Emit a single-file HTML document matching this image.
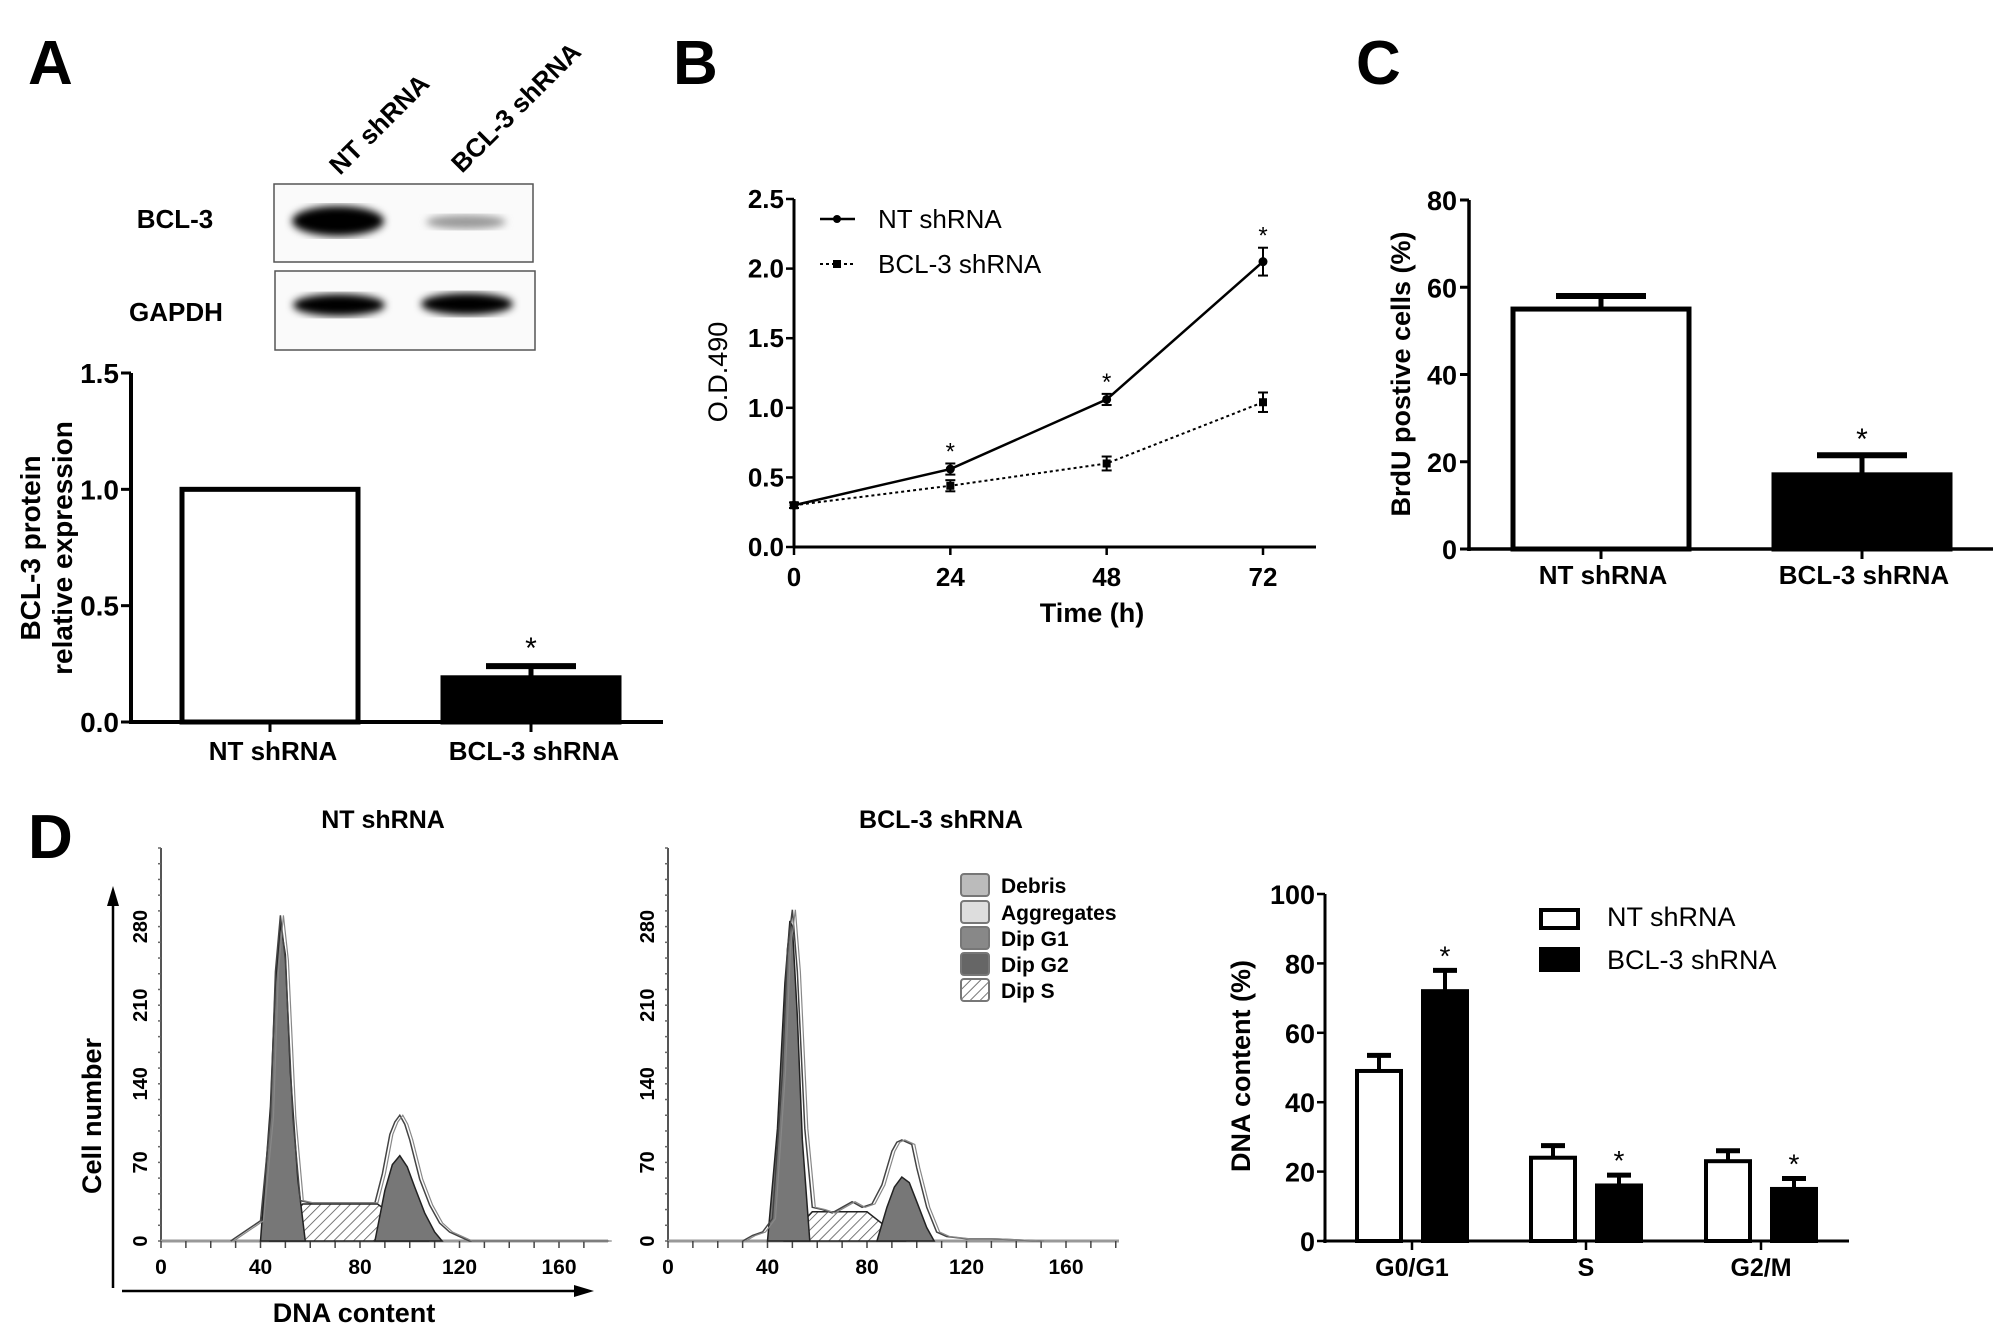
<!DOCTYPE html>
<html><head><meta charset="utf-8">
<style>
html,body{margin:0;padding:0;background:#fff;}
svg{display:block;}
text{font-family:"Liberation Sans",Arial,sans-serif;fill:#000;}
.nar{font-family:"Liberation Sans Narrow","Liberation Sans",sans-serif;font-weight:bold;}
</style></head>
<body>
<svg id="fig" width="2008" height="1340" viewBox="0 0 2008 1340" xmlns="http://www.w3.org/2000/svg">
<defs>
<pattern id="hatch" patternUnits="userSpaceOnUse" width="7" height="7" patternTransform="rotate(45)">
<rect width="7" height="7" fill="#fff"/><line x1="0" y1="0" x2="0" y2="7" stroke="#555" stroke-width="1.6"/>
</pattern>
<filter id="blur"><feGaussianBlur stdDeviation="4"/></filter>
</defs>
<!-- panel letters -->
<text x="28" y="84" font-size="62" font-weight="bold">A</text>
<text x="673" y="84" font-size="62" font-weight="bold">B</text>
<text x="1356" y="84" font-size="62" font-weight="bold">C</text>
<text x="28" y="858" font-size="62" font-weight="bold">D</text>

<!-- western blot -->
<g>
<text class="nar" transform="translate(340,176) rotate(-45)" font-size="26">NT shRNA</text>
<text class="nar" transform="translate(462,174) rotate(-45)" font-size="26">BCL-3 shRNA</text>
<text class="nar" x="175" y="228" font-size="26" text-anchor="middle">BCL-3</text>
<text class="nar" x="176" y="321" font-size="26" text-anchor="middle">GAPDH</text>
<rect x="274" y="184" width="259" height="78" fill="#fafafa" stroke="#555" stroke-width="1.5"/>
<rect x="275" y="271" width="260" height="79" fill="#fafafa" stroke="#555" stroke-width="1.5"/>
<ellipse cx="338" cy="221" rx="46" ry="15" fill="#000" filter="url(#blur)"/>
<ellipse cx="466" cy="222" rx="40" ry="7" fill="#999" filter="url(#blur)"/>
<ellipse cx="339" cy="305" rx="46" ry="11" fill="#000" filter="url(#blur)"/>
<ellipse cx="467" cy="304" rx="46" ry="11" fill="#000" filter="url(#blur)"/>
</g>
<g id="chartA"></g>
<g id="chartB"></g>
<g id="chartC"></g>
<g id="hist1"></g>
<g id="hist2"></g>
<g id="chartD"></g>
</svg>
<script>
// ---- Panel A data
const aCats = ["NT shRNA", "BCL-3 shRNA"];
const aVals = [1.0, 0.19];
const aErr = [0, 0.05];
const aTicks = ["0.0", "0.5", "1.0", "1.5"];
// ---- Panel B data
const bTimes = [0, 24, 48, 72];
const bNT = [0.30, 0.56, 1.06, 2.05];
const bNTerr = [0.02, 0.04, 0.04, 0.1];
const bBCL = [0.30, 0.44, 0.60, 1.04];
const bBCLerr = [0.02, 0.04, 0.05, 0.07];
const bYTicks = ["0.0", "0.5", "1.0", "1.5", "2.0", "2.5"];
// ---- Panel C data
const cCats = ["NT shRNA", "BCL-3 shRNA"];
const cVals = [55, 17];
const cErr = [3, 4.5];
const cTicks = ["0", "20", "40", "60", "80"];
// ---- Panel D histograms
const h1OutX = [28,32,36,40,44,46,48,50,53,56,60,70,80,86,89,92,94,96,98,100,104,108,112,116,120,124,130,180];
const h1OutY = [0,6,12,18,110,240,290,250,110,36,34,34,34,34,60,95,106,112,104,90,55,32,16,8,4,0,0,0];
const h1G1X = [40,44,46,48,50,52,55,58];
const h1G1Y = [0,120,230,283,255,150,55,0];
const h1SX = [44,57,87,107];
const h1SY = [0,33,33,0];
const h1G2X = [86,90,93,96,99,102,106,110,113];
const h1G2Y = [0,45,68,76,66,48,25,8,0];
const h2OutX = [30,34,38,42,46,48,50,52,55,58,62,66,70,74,78,82,86,90,92,94,96,98,100,104,108,112,120,130,150];
const h2OutY = [0,5,8,20,150,260,295,240,100,30,28,25,30,35,30,33,50,80,88,90,88,86,65,30,8,4,2,2,0];
const h2G1X = [40,44,47,49,50,52,54,57];
const h2G1Y = [0,100,230,285,280,200,90,0];
const h2SX = [47,58,80,95];
const h2SY = [0,26,26,0];
const h2G2X = [84,88,91,94,97,100,104,107];
const h2G2Y = [0,30,48,57,52,35,12,0];
const hXTicks = [0, 40, 80, 120, 160];
const hYTicks = [0, 70, 140, 210, 280];
// ---- Panel D bars
const dCats = ["G0/G1", "S", "G2/M"];
const dNT = [49, 24, 23];
const dNTerr = [4.5, 3.5, 3];
const dBCL = [72, 16, 15];
const dBCLerr = [6, 3, 3];
const dTicks = ["0", "20", "40", "60", "80", "100"];

const NS = "http://www.w3.org/2000/svg";
function mk(parent, tag, attrs, txt){
  const e = document.createElementNS(NS, tag);
  for (const k in attrs) e.setAttribute(k, attrs[k]);
  if (txt !== undefined) e.textContent = txt;
  parent.appendChild(e);
  return e;
}

// ================= Panel A
(function(){
  const g = document.getElementById('chartA');
  const x0 = 131, x1 = 663, y0 = 722, yTop = 373, vmax = 1.5;
  const Y = v => y0 - (y0 - yTop) * v / vmax;
  const cx = [270, 531], bw = 176;
  let l = mk(g,'line',{x1:x0,y1:yTop,x2:x0,y2:y0+2,stroke:'#000','stroke-width':4});
   
  l = mk(g,'line',{x1:x0-2,y1:y0,x2:x1,y2:y0,stroke:'#000','stroke-width':4});
   
  aTicks.forEach(t => {
    const y = Y(parseFloat(t));
    mk(g,'line',{x1:x0-10,y1:y,x2:x0,y2:y,stroke:'#000','stroke-width':3});
    const tx = mk(g,'text',{x:x0-12,y:y+10,'font-size':28,'text-anchor':'end','class':'nar'},t);
     
  });
  aCats.forEach((c,i) => {
    const r = mk(g,'rect',{x:cx[i]-bw/2,y:Y(aVals[i]),width:bw,height:y0-Y(aVals[i]),fill:i?'#000':'#fff',stroke:'#000','stroke-width':5});
     
    mk(g,'line',{x1:cx[i],y1:y0,x2:cx[i],y2:y0+10,stroke:'#000','stroke-width':3});
    if (aErr[i]>0){
      mk(g,'line',{x1:cx[i],y1:Y(aVals[i]),x2:cx[i],y2:Y(aVals[i]+aErr[i]),stroke:'#000','stroke-width':5});
      mk(g,'line',{x1:cx[i]-45,y1:Y(aVals[i]+aErr[i]),x2:cx[i]+45,y2:Y(aVals[i]+aErr[i]),stroke:'#000','stroke-width':6});
      const s = mk(g,'text',{x:cx[i],y:Y(aVals[i]+aErr[i])-8,'font-size':30,'text-anchor':'middle'},'*');
       
    }
    const t = mk(g,'text',{x:cx[i]+3,y:760,'font-size':26,'text-anchor':'middle','class':'nar'},c);
     
  });
  let t = mk(g,'text',{transform:'translate(40,548) rotate(-90)','font-size':28,'text-anchor':'middle','font-weight':'bold'},'BCL-3 protein');
   
  t = mk(g,'text',{transform:'translate(72,548) rotate(-90)','font-size':28,'text-anchor':'middle','font-weight':'bold'},'relative expression');
   
})();

// ================= Panel B
(function(){
  const g = document.getElementById('chartB');
  const x0 = 794, x1 = 1316, y0 = 547, yTop = 199;
  const X = t => x0 + t * (1263 - 794) / 72;
  const Y = v => y0 - (y0 - yTop) * v / 2.5;
  let l = mk(g,'line',{x1:x0,y1:yTop,x2:x0,y2:y0,stroke:'#000','stroke-width':3});
   
  l = mk(g,'line',{x1:x0,y1:y0,x2:x1,y2:y0,stroke:'#000','stroke-width':3});
   
  bYTicks.forEach(t => {
    const y = Y(parseFloat(t));
    mk(g,'line',{x1:x0-8,y1:y,x2:x0,y2:y,stroke:'#000','stroke-width':2.5});
    const tx = mk(g,'text',{x:x0-10,y:y+9,'font-size':26,'text-anchor':'end','class':'nar'},t);
     
  });
  bTimes.forEach(t => {
    mk(g,'line',{x1:X(t),y1:y0,x2:X(t),y2:y0+8,stroke:'#000','stroke-width':2.5});
    const tx = mk(g,'text',{x:X(t),y:586,'font-size':26,'text-anchor':'middle','class':'nar'},String(t));
     
  });
  function series(vals, errs, dash, sq, name){
    const pts = vals.map((v,i)=>X(bTimes[i])+','+Y(v)).join(' ');
    const pl = mk(g,'polyline',{points:pts,fill:'none',stroke:'#000','stroke-width':dash?2:2.5,'stroke-dasharray':dash?'3,3':'none'});
     
    vals.forEach((v,i)=>{
      const x = X(bTimes[i]);
      mk(g,'line',{x1:x,y1:Y(v-errs[i]),x2:x,y2:Y(v+errs[i]),stroke:'#000','stroke-width':2});
      mk(g,'line',{x1:x-5,y1:Y(v-errs[i]),x2:x+5,y2:Y(v-errs[i]),stroke:'#000','stroke-width':2});
      mk(g,'line',{x1:x-5,y1:Y(v+errs[i]),x2:x+5,y2:Y(v+errs[i]),stroke:'#000','stroke-width':2});
      const m = sq ? mk(g,'rect',{x:x-4,y:Y(v)-4,width:8,height:8,fill:'#000'}) : mk(g,'circle',{cx:x,cy:Y(v),r:4.5,fill:'#000'});
       
    });
  }
  series(bBCL, bBCLerr, true, true, 'bcl3');
  series(bNT, bNTerr, false, false, 'nt');
  bTimes.forEach((t,i)=>{
    if (i===0) return;
    const s = mk(g,'text',{x:X(t),y:Y(bNT[i]+bNTerr[i])-4,'font-size':24,'text-anchor':'middle'},'*');
     
  });
  // legend
  mk(g,'line',{x1:820,y1:219,x2:855,y2:219,stroke:'#000','stroke-width':2.5});
  mk(g,'circle',{cx:837,cy:219,r:4,fill:'#000'});
  let t = mk(g,'text',{x:878,y:228,'font-size':26},'NT shRNA');
   
  mk(g,'line',{x1:820,y1:264,x2:855,y2:264,stroke:'#000','stroke-width':2,'stroke-dasharray':'3,3'});
  mk(g,'rect',{x:833,y:260,width:8,height:8,fill:'#000'});
  t = mk(g,'text',{x:878,y:273,'font-size':26},'BCL-3 shRNA');
   
  t = mk(g,'text',{transform:'translate(727,372) rotate(-90)','font-size':27,'text-anchor':'middle'},'O.D.490');
   
  t = mk(g,'text',{x:1092,y:622,'font-size':27,'text-anchor':'middle','class':'nar'},'Time (h)');
   
})();

// ================= Panel C
(function(){
  const g = document.getElementById('chartC');
  const x0 = 1469, x1 = 1993, y0 = 549, yTop = 200, vmax = 80;
  const Y = v => y0 - (y0 - yTop) * v / vmax;
  const cx = [1601, 1862], bw = 176;
  let l = mk(g,'line',{x1:x0,y1:yTop,x2:x0,y2:y0+2,stroke:'#000','stroke-width':3.5});
   
  l = mk(g,'line',{x1:x0-2,y1:y0,x2:x1,y2:y0,stroke:'#000','stroke-width':3.5});
   
  cTicks.forEach(t => {
    const y = Y(parseFloat(t));
    mk(g,'line',{x1:x0-9,y1:y,x2:x0,y2:y,stroke:'#000','stroke-width':3});
    const tx = mk(g,'text',{x:x0-12,y:y+10,'font-size':27,'text-anchor':'end','class':'nar'},t);
     
  });
  cCats.forEach((c,i)=>{
    const r = mk(g,'rect',{x:cx[i]-bw/2,y:Y(cVals[i]),width:bw,height:y0-Y(cVals[i]),fill:i?'#000':'#fff',stroke:'#000','stroke-width':5});
     
    mk(g,'line',{x1:cx[i],y1:y0,x2:cx[i],y2:y0+10,stroke:'#000','stroke-width':3});
    const ye = Y(cVals[i]+cErr[i]);
    mk(g,'line',{x1:cx[i],y1:Y(cVals[i]),x2:cx[i],y2:ye,stroke:'#000','stroke-width':5});
    mk(g,'line',{x1:cx[i]-45,y1:ye,x2:cx[i]+45,y2:ye,stroke:'#000','stroke-width':6});
    if (i===1){
      const s = mk(g,'text',{x:cx[i],y:ye-6,'font-size':30,'text-anchor':'middle'},'*');
       
    }
    const t = mk(g,'text',{x:cx[i]+2,y:584,'font-size':26,'text-anchor':'middle','class':'nar'},c);
     
  });
  const t = mk(g,'text',{transform:'translate(1410,374) rotate(-90)','font-size':27,'text-anchor':'middle','font-weight':'bold'},'BrdU postive cells (%)');
   
})();

// ================= Panel D histograms
function histo(id, ox, xEnd, title, titleX, outX, outY, g1X, g1Y, sX, sY, g2X, g2Y){
  const g = document.getElementById(id);
  const yb = 1241, yTopAx = 848;
  const X = v => ox + v * (99.5/40);
  const Y = v => yb - v * (78.6/70);
  const poly = (xs, ys) => xs.map((x,i)=>X(x)+','+Y(ys[i])).join(' ');
  let t = mk(g,'text',{x:titleX,y:828,'font-size':25,'text-anchor':'middle','class':'nar'},title);
   
  let l = mk(g,'line',{x1:ox,y1:yTopAx,x2:ox,y2:yb,stroke:'#555','stroke-width':2});
   
  for (let v=0; v<=350; v+=14){ const y=Y(v); if (y<yTopAx) break; mk(g,'line',{x1:ox-3,y1:y,x2:ox,y2:y,stroke:'#666','stroke-width':1.5}); }
  l = mk(g,'line',{x1:ox,y1:yb,x2:xEnd,y2:yb,stroke:'#999','stroke-width':3});
   
  for (let v=0; v<=180; v+=10){ const x=X(v); if (x>xEnd) break; mk(g,'line',{x1:x,y1:yb,x2:x,y2:yb+7,stroke:'#444','stroke-width':1.5}); }
  hYTicks.forEach(v=>{
    const tx = mk(g,'text',{transform:`translate(${ox-14},${Y(v)}) rotate(-90)`,'font-size':20,'text-anchor':'middle','font-weight':'bold'},String(v));
     
  });
  hXTicks.forEach(v=>{
    const tx = mk(g,'text',{x:X(v),y:1274,'font-size':21,'text-anchor':'middle','class':'nar'},String(v));
     
  });
  let p = mk(g,'polygon',{points:poly(sX,sY),fill:'url(#hatch)',stroke:'#222','stroke-width':1.5});
   
  p = mk(g,'polygon',{points:poly(g1X,g1Y),fill:'#777',stroke:'#222','stroke-width':1.5});
   
  p = mk(g,'polygon',{points:poly(g2X,g2Y),fill:'#777',stroke:'#222','stroke-width':1.5});
   
  p = mk(g,'polyline',{points:poly(outX,outY),fill:'none',stroke:'#444','stroke-width':1.5});
   
  p = mk(g,'polyline',{points:outX.map((x,i)=>(X(x)+3)+','+Y(outY[i])).join(' '),fill:'none',stroke:'#888','stroke-width':1.2});
}
histo('hist1', 161, 608, 'NT shRNA', 383, h1OutX, h1OutY, h1G1X, h1G1Y, h1SX, h1SY, h1G2X, h1G2Y);
histo('hist2', 668, 1119, 'BCL-3 shRNA', 941, h2OutX, h2OutY, h2G1X, h2G1Y, h2SX, h2SY, h2G2X, h2G2Y);
(function(){
  const g = document.getElementById('hist1');
  let a = mk(g,'line',{x1:113,y1:1288,x2:113,y2:900,stroke:'#000','stroke-width':2.5});
   
  mk(g,'polygon',{points:'113,886 107,906 119,906',fill:'#000'});
  a = mk(g,'line',{x1:122,y1:1291,x2:580,y2:1291,stroke:'#000','stroke-width':2.5});
   
  mk(g,'polygon',{points:'594,1291 574,1285 574,1297',fill:'#000'});
  let t = mk(g,'text',{transform:'translate(101,1116) rotate(-90)','font-size':27,'text-anchor':'middle','font-weight':'bold'},'Cell number');
   
  t = mk(g,'text',{x:354,y:1322,'font-size':27,'text-anchor':'middle','class':'nar'},'DNA content');
   
  // legend
  const lg = document.getElementById('hist2');
  const names = ['Debris','Aggregates','Dip G1','Dip G2','Dip S'];
  const fills = ['#bbb','#ddd','#888','#666','url(#hatch)'];
  const ys = [885, 912, 938, 964, 990];
  names.forEach((n,i)=>{
    mk(lg,'rect',{x:961,y:ys[i]-11,width:28,height:22,fill:fills[i],stroke:'#777','stroke-width':2,rx:3});
    const tt = mk(lg,'text',{x:1001,y:ys[i]+8,'font-size':21,'class':'nar'},n);
     
  });
})();

// ================= Panel D bars
(function(){
  const g = document.getElementById('chartD');
  const x0 = 1325, x1 = 1849, y0 = 1241, yTop = 894, vmax = 100;
  const Y = v => y0 - (y0 - yTop) * v / vmax;
  const cx = [1412, 1586, 1761], off = 33, bw = 44;
  let l = mk(g,'line',{x1:x0,y1:yTop,x2:x0,y2:y0+2,stroke:'#000','stroke-width':3});
   
  l = mk(g,'line',{x1:x0-2,y1:y0,x2:x1,y2:y0,stroke:'#000','stroke-width':3});
   
  dTicks.forEach(t=>{
    const y = Y(parseFloat(t));
    mk(g,'line',{x1:x0-8,y1:y,x2:x0,y2:y,stroke:'#000','stroke-width':2.5});
    const tx = mk(g,'text',{x:x0-10,y:y+10,'font-size':27,'text-anchor':'end','class':'nar'},t);
     
  });
  function bar(x, v, e, black, star, name){
    const r = mk(g,'rect',{x:x-bw/2,y:Y(v),width:bw,height:y0-Y(v),fill:black?'#000':'#fff',stroke:'#000','stroke-width':4});
     
    const ye = Y(v+e);
    mk(g,'line',{x1:x,y1:Y(v),x2:x,y2:ye,stroke:'#000','stroke-width':4});
    mk(g,'line',{x1:x-12,y1:ye,x2:x+12,y2:ye,stroke:'#000','stroke-width':5});
    if (star){
      const s = mk(g,'text',{x:x,y:ye-5,'font-size':28,'text-anchor':'middle'},'*');
       
    }
  }
  dCats.forEach((c,i)=>{
    bar(cx[i]-off, dNT[i], dNTerr[i], false, false, 'bar-nt-'+c);
    bar(cx[i]+off, dBCL[i], dBCLerr[i], true, true, 'bar-bcl3-'+c);
    mk(g,'line',{x1:cx[i],y1:y0,x2:cx[i],y2:y0+9,stroke:'#000','stroke-width':2.5});
    const t = mk(g,'text',{x:cx[i],y:1276,'font-size':25,'text-anchor':'middle','class':'nar'},c);
     
  });
  let r = mk(g,'rect',{x:1541,y:910,width:37,height:18,fill:'#fff',stroke:'#000','stroke-width':4});
   
  let t = mk(g,'text',{x:1607,y:926,'font-size':27},'NT shRNA');
   
  r = mk(g,'rect',{x:1539,y:947,width:41,height:25,fill:'#000'});
   
  t = mk(g,'text',{x:1607,y:969,'font-size':27},'BCL-3 shRNA');
   
  t = mk(g,'text',{transform:'translate(1250,1066) rotate(-90)','font-size':27,'text-anchor':'middle','font-weight':'bold'},'DNA content (%)');
   
})();
</script>
</body></html>
